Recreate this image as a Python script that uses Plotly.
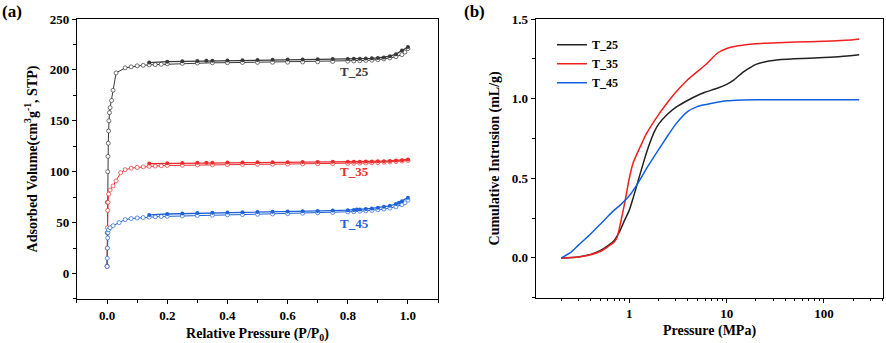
import plotly.graph_objects as go

# ---------------- Panel (a): N2 isotherms ----------------
ads_p_25 = [0.0, 0.0005, 0.001, 0.002, 0.003, 0.004, 0.005, 0.006, 0.008, 0.01, 0.015, 0.02, 0.03,
            0.06, 0.08, 0.1, 0.12, 0.14, 0.16, 0.18, 0.2, 0.25, 0.3, 0.35, 0.4, 0.45, 0.5, 0.55,
            0.6, 0.65, 0.7, 0.75, 0.8, 0.82, 0.84, 0.86, 0.88, 0.9, 0.92, 0.94, 0.96, 0.98, 0.99, 1.0]
ads_v_25 = [7, 40, 70, 100, 115, 128, 140, 150, 158, 163, 170, 180, 197,
            202, 203, 204, 204.5, 205, 205.2, 205.5, 206, 206.4, 206.7, 207, 207.1, 207.3, 207.4, 207.5,
            207.6, 207.8, 208, 208.3, 208.6, 208.8, 209, 209.3, 209.6, 210, 210.8, 211.8, 213, 215, 217.5, 221]
des_p_25 = [1.0, 0.98, 0.96, 0.94, 0.92, 0.9, 0.88, 0.86, 0.84, 0.82, 0.8, 0.75, 0.7, 0.65, 0.6,
            0.55, 0.5, 0.45, 0.4, 0.35, 0.33, 0.3, 0.25, 0.2, 0.14]
des_v_25 = [222.5, 219, 215.5, 213.5, 212.3, 211.8, 211.4, 211.2, 211, 210.9, 210.8, 210.6, 210.4, 210.2, 210.1,
            210, 209.8, 209.5, 209.3, 209, 208.9, 208.8, 208.5, 208.1, 207.2]

ads_p_35 = [0.0, 0.0005, 0.001, 0.002, 0.003, 0.005, 0.01, 0.02, 0.03, 0.045, 0.06, 0.08, 0.1, 0.12,
            0.14, 0.16, 0.18, 0.2, 0.25, 0.3, 0.35, 0.4, 0.45, 0.5, 0.55, 0.6, 0.65, 0.7, 0.75,
            0.8, 0.82, 0.84, 0.86, 0.88, 0.9, 0.92, 0.94, 0.96, 0.98, 1.0]
ads_v_35 = [7, 25, 45, 62, 70, 78, 82, 86, 91, 99, 102, 103.5, 104.2, 104.8,
            105.3, 105.6, 105.9, 106.1, 106.4, 106.6, 106.8, 107, 107.1, 107.3, 107.4, 107.5, 107.6, 107.8, 108,
            108.2, 108.3, 108.5, 108.6, 108.8, 109, 109.3, 109.6, 110, 110.5, 111]
des_p_35 = [1.0, 0.98, 0.96, 0.94, 0.92, 0.9, 0.88, 0.86, 0.84, 0.82, 0.8, 0.75, 0.7, 0.65, 0.6,
            0.55, 0.5, 0.45, 0.4, 0.35, 0.33, 0.3, 0.25, 0.2, 0.14]
des_v_35 = [112, 111.3, 110.9, 110.6, 110.4, 110.2, 110.1, 110, 109.9, 109.8, 109.8, 109.7, 109.6, 109.5, 109.4,
            109.3, 109.2, 109.1, 109, 108.9, 108.8, 108.7, 108.6, 108.4, 108]

ads_p_45 = [0.0, 0.0005, 0.001, 0.002, 0.003, 0.005, 0.01, 0.02, 0.04, 0.06, 0.08, 0.1, 0.12,
            0.14, 0.16, 0.18, 0.2, 0.25, 0.3, 0.35, 0.4, 0.45, 0.5, 0.55, 0.6, 0.65, 0.7, 0.75,
            0.8, 0.82, 0.84, 0.86, 0.88, 0.9, 0.92, 0.94, 0.96, 0.98, 0.99, 1.0]
ads_v_45 = [7, 15, 25, 35, 40, 43, 45, 47, 50, 53, 54, 54.6, 55,
            55.4, 55.7, 56, 56.2, 56.6, 57, 57.3, 57.6, 57.9, 58.2, 58.5, 58.8, 59.2, 59.6, 60,
            60.5, 60.8, 61.2, 61.6, 62, 62.6, 63.3, 64.2, 65.5, 67.5, 69.5, 72]
des_p_45 = [1.0, 0.98, 0.97, 0.96, 0.94, 0.92, 0.9, 0.88, 0.86, 0.84, 0.83, 0.82, 0.8, 0.75, 0.7, 0.65, 0.6,
            0.55, 0.5, 0.45, 0.4, 0.35, 0.3, 0.25, 0.2, 0.14]
des_v_45 = [74.5, 71, 69.5, 68.3, 66.5, 65.5, 64.5, 64, 63.5, 63, 62.8, 62.5, 62.2, 61.8, 61.5, 61.2, 61,
            60.8, 60.5, 60.2, 60, 59.7, 59.4, 59, 58.5, 57.6]

# ---------------- Panel (b): mercury intrusion ----------------
p_25 = [0.2, 0.3, 0.4, 0.5, 0.6, 0.7, 0.8, 0.9, 1.0, 1.1, 1.2, 1.4, 1.6, 1.8, 2.0, 2.5, 3, 4, 5, 6, 8,
        10, 12, 15, 18, 20, 25, 30, 50, 100, 150, 230]
v_25 = [0.0, 0.006, 0.022, 0.045, 0.075, 0.11, 0.17, 0.24, 0.3, 0.38, 0.46, 0.6, 0.71, 0.79, 0.84, 0.905, 0.945,
        0.99, 1.02, 1.04, 1.065, 1.09, 1.12, 1.17, 1.2, 1.215, 1.232, 1.24, 1.25, 1.258, 1.264, 1.275]
p_35 = [0.2, 0.3, 0.4, 0.5, 0.6, 0.7, 0.75, 0.8, 0.9, 1.0, 1.1, 1.3, 1.5, 2.0, 2.5, 3, 4, 5, 6, 7, 8,
        10, 12, 15, 20, 30, 50, 100, 150, 200, 230]
v_35 = [0.0, 0.006, 0.02, 0.04, 0.07, 0.1, 0.13, 0.2, 0.35, 0.5, 0.6, 0.7, 0.78, 0.9, 0.98, 1.04, 1.12, 1.17,
        1.21, 1.25, 1.285, 1.315, 1.328, 1.337, 1.345, 1.35, 1.355, 1.36, 1.365, 1.37, 1.375]
p_45 = [0.2, 0.25, 0.3, 0.4, 0.5, 0.6, 0.7, 0.8, 1.0, 1.2, 1.5, 2.0, 2.5, 3, 4, 5, 6, 8, 10, 15, 20,
        50, 100, 230]
v_45 = [0.0, 0.035, 0.08, 0.15, 0.21, 0.26, 0.3, 0.33, 0.39, 0.46, 0.56, 0.68, 0.77, 0.84, 0.92, 0.95, 0.962,
        0.977, 0.986, 0.991, 0.993, 0.993, 0.993, 0.993]

series_names = ["T_25", "T_35", "T_45"]
iso_colors = ["#3a3a3a", "#ee2b2b", "#1f63d8"]
mip_colors = ["#222222", "#f02020", "#1060e0"]
label_p = [0.823, 0.823, 0.823]
label_v = [198, 100, 49]

FONT = "Liberation Serif"

fig = go.Figure()

iso = [(ads_p_25, ads_v_25, des_p_25, des_v_25),
       (ads_p_35, ads_v_35, des_p_35, des_v_35),
       (ads_p_45, ads_v_45, des_p_45, des_v_45)]
for (ap, av, dp, dv), col in zip(iso, iso_colors):
    fig.add_trace(go.Scatter(x=ap, y=av, mode="lines+markers", xaxis="x", yaxis="y",
                             line=dict(color=col, width=1),
                             marker=dict(symbol="circle", size=4, color="white",
                                         line=dict(color=col, width=0.7)),
                             showlegend=False))
    fig.add_trace(go.Scatter(x=dp, y=dv, mode="lines+markers", xaxis="x", yaxis="y",
                             line=dict(color=col, width=1.3),
                             marker=dict(symbol="circle", size=4, color=col),
                             showlegend=False))

for name, px, vy, col in zip(series_names, [p_25, p_35, p_45], [v_25, v_35, v_45], mip_colors):
    fig.add_trace(go.Scatter(x=px, y=vy, mode="lines", name=name, xaxis="x2", yaxis="y2",
                             line=dict(color=col, width=1.5, shape="spline", smoothing=0.6)))

for name, lp, lv, col in zip(series_names, label_p, label_v, iso_colors):
    fig.add_annotation(x=lp, y=lv, xref="x", yref="y", text=name, showarrow=False,
                       font=dict(family=FONT, size=13, color=col, weight="bold"))

fig.add_annotation(x=0.0, y=1.0, xref="paper", yref="paper", xanchor="left", yanchor="top",
                   text="(a)", showarrow=False, font=dict(family=FONT, size=17, color="black", weight="bold"))
fig.add_annotation(x=0.521, y=1.0, xref="paper", yref="paper", xanchor="left", yanchor="top",
                   text="(b)", showarrow=False, font=dict(family=FONT, size=17, color="black", weight="bold"))

tickfont = dict(family=FONT, size=13, color="black", weight="bold")
titlefont = dict(family=FONT, size=14, color="black", weight="bold")
common = dict(showline=True, mirror=True, linecolor="black", linewidth=1.3, ticks="outside",
              ticklen=4, tickwidth=1, tickcolor="black", showgrid=False, zeroline=False,
              tickfont=tickfont, automargin=False)

fig.update_layout(
    width=886, height=343, margin=dict(l=0, r=0, t=0, b=0),
    paper_bgcolor="white", plot_bgcolor="white",
    xaxis=dict(domain=[0.0869, 0.4944], range=[-0.1, 1.1], tickvals=[0, 0.2, 0.4, 0.6, 0.8, 1.0],
               tickformat=".1f", minor=dict(ticks="outside", ticklen=2.5, tickcolor="black", dtick=0.1, tick0=-0.1),
               title=dict(text="Relative Pressure (P/P<sub>0</sub>)", font=titlefont, standoff=6),
               anchor="y", **common),
    yaxis=dict(domain=[0.1283, 0.9446], range=[-25, 250], tickvals=[0, 50, 100, 150, 200, 250],
               minor=dict(ticks="outside", ticklen=2.5, tickcolor="black", dtick=25, tick0=0),
               title=dict(text="Adsorbed Volume(cm<sup>3</sup>g<sup>-1</sup>, STP)", font=titlefont, standoff=8),
               anchor="x", **common),
    xaxis2=dict(domain=[0.6046, 0.997], type="log", range=[-0.962, 2.61], tickvals=[1, 10, 100],
                ticktext=["1", "10", "100"],
                minor=dict(ticks="outside", ticklen=2.5, tickcolor="black",
                           tickvals=[0.2, 0.3, 0.4, 0.5, 0.6, 0.7, 0.8, 0.9, 2, 3, 4, 5, 6, 7, 8, 9,
                                     20, 30, 40, 50, 60, 70, 80, 90, 200, 300, 400]),
                title=dict(text="Pressure (MPa)", font=titlefont, standoff=4),
                anchor="y2", **common),
    yaxis2=dict(domain=[0.132, 0.9446], range=[-0.25, 1.5], tickvals=[0, 0.5, 1.0, 1.5], tickformat=".1f",
                minor=dict(ticks="outside", ticklen=2.5, tickcolor="black", dtick=0.25, tick0=0),
                title=dict(text="Cumulative Intrusion (mL/g)", font=titlefont, standoff=8),
                anchor="x2", **common),
    legend=dict(x=0.623, y=0.912, xanchor="left", yanchor="top", bgcolor="rgba(0,0,0,0)",
                font=dict(family=FONT, size=12, color="black", weight="bold"), tracegroupgap=0, itemwidth=30),
)

fig.write_html("out.html", config={"displayModeBar": False},
               post_script="document.body.style.margin='0px';document.body.style.overflow='hidden';")
